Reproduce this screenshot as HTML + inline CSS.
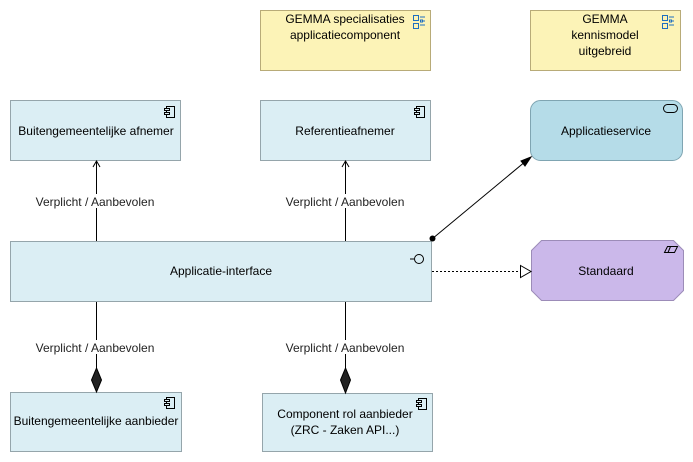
<!DOCTYPE html>
<html><head><meta charset="utf-8"><style>
html,body{margin:0;padding:0;background:#fff;}
svg{display:block;}
text{font-family:"Liberation Sans",sans-serif;font-size:12px;fill:#000;}
.lbl{fill:#222;}
</style></head><body>
<svg width="693" height="462" viewBox="0 0 693 462" xmlns="http://www.w3.org/2000/svg">
<defs>
<g id="comp"><rect x="2.5" y="0.5" width="8" height="11" fill="none" stroke="#000"/><rect x="0.5" y="2.5" width="5" height="2" fill="#dbeef4" stroke="#000"/><rect x="0.5" y="6.5" width="5" height="2" fill="#dbeef4" stroke="#000"/></g>
<g id="grp"><rect x="0.5" y="0.5" width="5" height="5" fill="none" stroke="#1e6fc0"/><rect x="0.5" y="8.5" width="5" height="5" fill="none" stroke="#1e6fc0"/><line x1="7" y1="2" x2="12" y2="2" stroke="#1e6fc0"/><rect x="7.5" y="5" width="2" height="2" fill="none" stroke="#1e6fc0"/><line x1="10" y1="6" x2="12" y2="6" stroke="#1e6fc0"/><line x1="7" y1="10" x2="12" y2="10" stroke="#1e6fc0"/></g>
</defs>
<!-- yellow -->
<rect x="260.5" y="10.5" width="170" height="60" fill="#fcf3b7" stroke="#b8ab78"/>
<use href="#grp" x="413" y="15"/>
<text x="345" y="23" text-anchor="middle">GEMMA specialisaties</text>
<text x="345" y="39" text-anchor="middle">applicatiecomponent</text>
<rect x="530.5" y="10.5" width="150" height="60" fill="#fcf3b7" stroke="#b8ab78"/>
<use href="#grp" x="662" y="15"/>
<text x="605" y="23" text-anchor="middle">GEMMA</text>
<text x="605" y="39" text-anchor="middle">kennismodel</text>
<text x="605" y="55" text-anchor="middle">uitgebreid</text>
<!-- top row -->
<rect x="10.5" y="100.5" width="170" height="60" fill="#dbeef4" stroke="#95a5ab"/>
<use href="#comp" x="164" y="106"/>
<text x="96" y="135" text-anchor="middle">Buitengemeentelijke afnemer</text>
<rect x="260.5" y="100.5" width="170" height="60" fill="#dbeef4" stroke="#95a5ab"/>
<use href="#comp" x="414" y="106"/>
<text x="345" y="135" text-anchor="middle">Referentieafnemer</text>
<rect x="530.5" y="100.5" width="152" height="60" rx="10" fill="#b5dce8" stroke="#7fa5b2"/>
<rect x="663.5" y="104.5" width="14" height="8" rx="4" fill="none" stroke="#000"/>
<text x="606" y="135" text-anchor="middle">Applicatieservice</text>
<!-- interface -->
<rect x="10.5" y="241.5" width="421" height="60" fill="#dbeef4" stroke="#95a5ab"/>
<line x1="410" y1="259" x2="414" y2="259" stroke="#000"/>
<circle cx="419" cy="259" r="4.5" fill="none" stroke="#000"/>
<text x="221" y="275" text-anchor="middle">Applicatie-interface</text>
<!-- standaard -->
<polygon points="541.5,240.5 673.5,240.5 683.5,250.5 683.5,290.5 673.5,300.5 541.5,300.5 531.5,290.5 531.5,250.5" fill="#cbb8ea" stroke="#9c8cb8"/>
<polygon points="664.5,252.5 667.5,246.5 677.5,246.5 674.5,252.5" fill="none" stroke="#000"/>
<line x1="670.5" y1="246.5" x2="668" y2="252.5" stroke="#000"/>
<text x="606" y="275" text-anchor="middle">Standaard</text>
<!-- bottom -->
<rect x="10.5" y="392.5" width="171" height="59" fill="#dbeef4" stroke="#95a5ab"/>
<use href="#comp" x="164" y="397"/>
<text x="96" y="425" text-anchor="middle">Buitengemeentelijke aanbieder</text>
<rect x="262.5" y="393.5" width="170" height="58" fill="#dbeef4" stroke="#95a5ab"/>
<use href="#comp" x="416" y="398"/>
<text x="345" y="418" text-anchor="middle">Component rol aanbieder</text>
<text x="345" y="434" text-anchor="middle">(ZRC - Zaken API...)</text>
<!-- connectors up -->
<line x1="96.5" y1="161" x2="96.5" y2="241" stroke="#000"/>
<polyline points="93,167 96.5,161 100,167" fill="none" stroke="#000"/>
<line x1="345.5" y1="161" x2="345.5" y2="241" stroke="#000"/>
<polyline points="342,167 345.5,161 349,167" fill="none" stroke="#000"/>
<rect x="30" y="194" width="130" height="14" fill="#fff"/>
<text class="lbl" x="95" y="206" text-anchor="middle">Verplicht / Aanbevolen</text>
<rect x="280" y="194" width="130" height="14" fill="#fff"/>
<text class="lbl" x="345" y="206" text-anchor="middle">Verplicht / Aanbevolen</text>
<!-- connectors down -->
<line x1="96.5" y1="302" x2="96.5" y2="368" stroke="#000"/>
<polygon points="96.5,368 101.5,380 96.5,392 91.5,380" fill="#222" stroke="#000"/>
<line x1="345.5" y1="302" x2="345.5" y2="368" stroke="#000"/>
<polygon points="345.5,368 350.5,380 345.5,393 340.5,380" fill="#222" stroke="#000"/>
<rect x="30" y="340" width="130" height="14" fill="#fff"/>
<text class="lbl" x="95" y="352" text-anchor="middle">Verplicht / Aanbevolen</text>
<rect x="280" y="340" width="130" height="14" fill="#fff"/>
<text class="lbl" x="345" y="352" text-anchor="middle">Verplicht / Aanbevolen</text>
<!-- realization to service -->
<line x1="432" y1="239" x2="526" y2="161" stroke="#000"/>
<circle cx="432.5" cy="238.5" r="3" fill="#000"/>
<polygon points="531,157 521,161 525,166" fill="#000" stroke="#000"/>
<!-- dashed to standaard -->
<line x1="432" y1="271.5" x2="520" y2="271.5" stroke="#000" stroke-dasharray="2,2"/>
<polygon points="520.5,265.5 531,271.5 520.5,277.5" fill="#fff" stroke="#000"/>
</svg>
</body></html>
